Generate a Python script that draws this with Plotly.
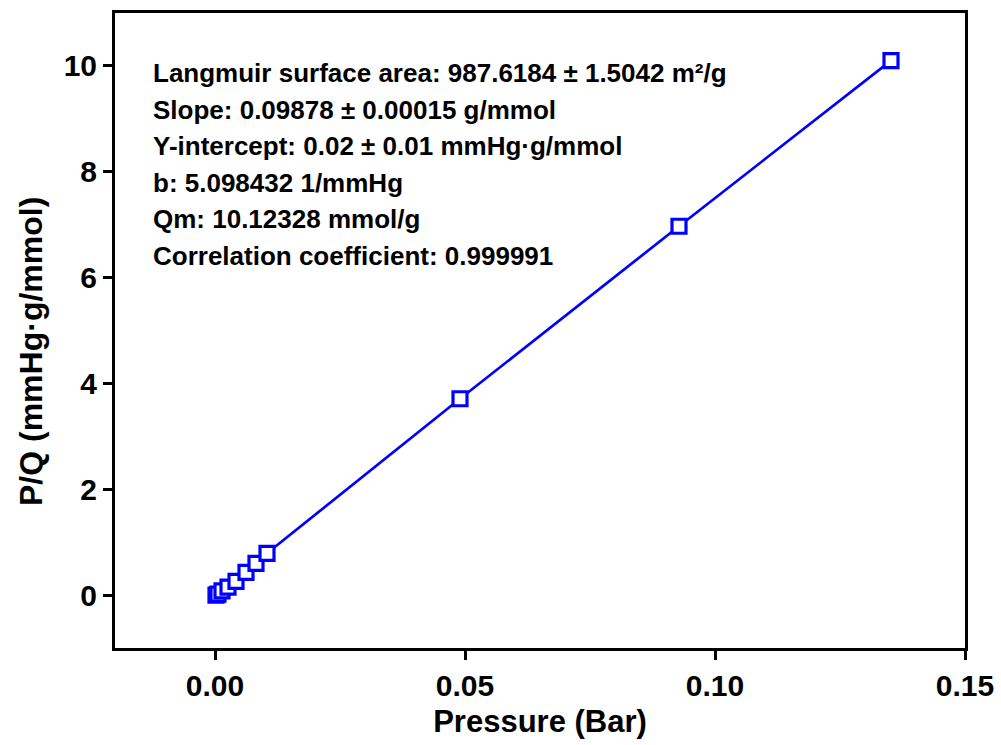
import plotly.graph_objects as go

# Langmuir linearised isotherm: P/Q versus P
pressure_bar = [0.0002, 0.0006, 0.0014, 0.0026, 0.0042, 0.0062, 0.0082, 0.0104,
                0.0490, 0.0928, 0.1352]
p_over_q = [0.00, 0.02, 0.08, 0.15, 0.26, 0.43, 0.60, 0.79,
            3.71, 6.97, 10.10]

fit_lines = [
    "Langmuir surface area: 987.6184 ± 1.5042 m²/g",
    "Slope: 0.09878 ± 0.00015 g/mmol",
    "Y-intercept: 0.02 ± 0.01 mmHg·g/mmol",
    "b: 5.098432 1/mmHg",
    "Qm: 10.12328 mmol/g",
    "Correlation coefficient: 0.999991",
]

x_ticks = [0.00, 0.05, 0.10, 0.15]
x_tick_text = ["0.00", "0.05", "0.10", "0.15"]
y_ticks = [0, 2, 4, 6, 8, 10]

BLUE = "#0000ff"
FONT = "Liberation Sans, Arial, sans-serif"

fig = go.Figure()
fig.add_trace(go.Scatter(
    x=pressure_bar, y=p_over_q,
    mode="lines+markers",
    line=dict(color=BLUE, width=2.7),
    marker=dict(symbol="square", size=14, color="white",
                line=dict(color=BLUE, width=3.2)),
    showlegend=False,
))

W, H = 1001, 745
L, R, T, B = 115, 36, 13, 97
plot_h = H - T - B

annotations = []
y0_px, step_px = 73, 36.5
for i, txt in enumerate(fit_lines):
    ypx = y0_px + i * step_px
    annotations.append(dict(
        text=f"<b>{txt}</b>", xref="paper", yref="paper",
        x=(151 - L) / (W - L - R), y=1 - (ypx - T) / plot_h,
        xanchor="left", yanchor="middle", showarrow=False,
        font=dict(family=FONT, size=26, color="black"),
    ))

# vertical axis title
annotations.append(dict(
    text="<b>P/Q (mmHg·g/mmol)</b>", xref="paper", yref="paper",
    x=(31 - L) / (W - L - R), y=1 - (352 - T) / plot_h,
    xanchor="center", yanchor="middle", textangle=-90, showarrow=False,
    font=dict(family=FONT, size=32, color="black"),
))

fig.update_layout(
    width=W, height=H,
    margin=dict(l=L, r=R, t=T, b=B, autoexpand=False),
    paper_bgcolor="white", plot_bgcolor="white",
    font=dict(family=FONT, color="black"),
    annotations=annotations,
    xaxis=dict(
        range=[-0.02, 0.15], tickvals=x_ticks, ticktext=[f"<b>{t}</b>" for t in x_tick_text],
        showline=True, linecolor="black", linewidth=3, mirror=True,
        ticks="outside", ticklen=9, tickwidth=3, tickcolor="black",
        showgrid=False, zeroline=False, automargin=False,
        tickfont=dict(family=FONT, size=30, color="black"),
        title=dict(text="<b>Pressure (Bar)</b>", standoff=10,
                   font=dict(family=FONT, size=31, color="black")),
    ),
    yaxis=dict(
        range=[-1, 11], tickvals=y_ticks, ticktext=[f"<b>{t}</b>" for t in y_ticks],
        showline=True, linecolor="black", linewidth=3, mirror=True,
        ticks="outside", ticklen=9, tickwidth=3, tickcolor="black",
        showgrid=False, zeroline=False, automargin=False,
        tickfont=dict(family=FONT, size=30, color="black"),
    ),
)

fig.write_html("out.html")
